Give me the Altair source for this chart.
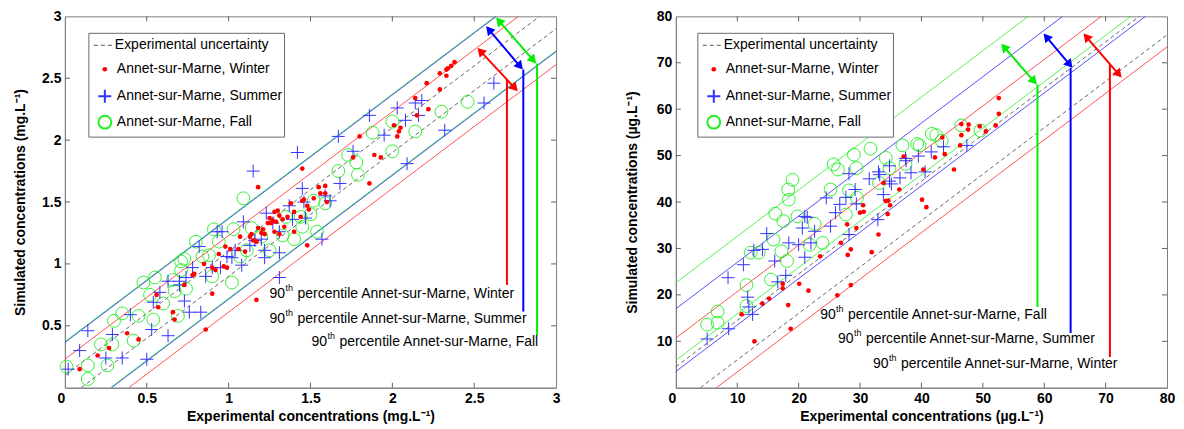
import math
import altair as alt
import pandas as pd

# ---------------- data: left panel (mg.L-1) ----------------
L_win_x = [0.09,0.20,0.27,0.38,0.45,0.57,0.56,0.66,0.67,0.73,0.78,0.79,0.86,0.85,0.90,0.90,0.92,0.94,0.98,1.01,0.97,0.99,1.06,1.07,1.10,1.13,1.14,1.15,1.17,1.18,1.20,1.21,1.22,1.24,1.25,1.26,1.27,1.28,1.29,1.31,1.33,1.36,1.31,1.34,1.28,1.30,1.18,1.17,1.38,1.40,1.40,1.44,1.45,1.46,1.48,1.48,1.49,1.52,1.55,1.56,1.59,1.59,1.60,1.45,1.76,1.80,1.86,1.89,1.93,2.01,2.03,2.05,2.04,2.14,2.15,2.21,2.22,2.29,2.29,2.33,2.34,2.36,2.38,2.33]
L_win_y = [0.15,0.26,0.32,0.44,0.39,0.65,0.75,0.61,0.55,0.83,0.91,0.92,0.47,1.00,0.76,0.97,0.95,1.08,1.14,1.12,0.98,0.97,1.12,1.22,1.10,1.22,1.24,1.19,1.18,1.29,1.25,1.28,1.24,1.33,1.37,1.33,1.35,1.26,1.34,1.24,1.36,1.38,1.39,1.30,1.42,1.43,1.62,0.71,1.49,1.26,1.42,1.38,1.51,1.52,1.15,1.47,1.44,1.53,1.62,1.57,1.57,1.63,1.50,1.77,1.86,2.03,1.65,1.88,1.86,2.12,2.03,2.10,2.07,2.34,2.20,2.46,2.25,2.54,2.41,2.52,2.58,2.60,2.63,2.57]
L_sum_x = [0.02,0.09,0.14,0.25,0.29,0.35,0.40,0.53,0.50,0.63,0.54,0.58,0.63,0.70,0.70,0.73,0.76,0.83,0.74,0.78,0.82,0.86,0.90,0.93,0.96,0.95,0.99,1.02,1.04,1.08,1.09,1.13,1.15,1.16,1.20,1.22,1.22,1.23,1.27,1.31,1.31,1.31,1.37,1.39,1.42,1.45,1.46,1.47,1.57,1.59,1.62,1.67,1.68,1.76,1.86,1.95,2.03,2.08,2.09,2.14,2.16,2.18,2.32,2.56,2.62]
L_sum_y = [0.15,0.30,0.46,0.24,0.43,0.24,0.59,0.47,0.23,0.42,0.69,0.77,0.86,0.86,0.83,0.70,0.61,0.61,0.89,0.97,1.14,0.90,0.97,1.26,1.26,0.97,1.06,1.05,1.11,0.99,1.34,1.15,1.75,1.19,1.20,1.05,1.11,1.41,1.33,1.09,0.89,1.26,1.47,1.36,1.90,1.61,1.50,1.37,1.20,1.55,1.51,2.03,1.65,1.91,2.20,2.04,2.26,2.16,1.81,2.30,2.20,2.32,2.08,2.30,2.46]
L_fal_x = [0.01,0.14,0.14,0.22,0.26,0.29,0.30,0.35,0.45,0.42,0.48,0.52,0.54,0.55,0.60,0.66,0.67,0.69,0.71,0.73,0.71,0.74,0.80,0.84,0.88,0.90,0.91,0.94,1.02,1.03,1.07,1.09,1.11,1.14,1.20,1.25,1.33,1.35,1.40,1.44,1.45,1.50,1.52,1.54,1.59,1.67,1.73,1.78,1.79,1.88,2.00,2.00,2.14,2.30,2.46]
L_fal_y = [0.17,0.18,0.07,0.35,0.18,0.35,0.54,0.60,0.58,0.38,0.85,0.75,0.55,0.89,0.68,0.87,0.78,0.58,1.02,1.04,0.95,0.80,1.18,1.06,1.07,0.90,1.28,1.18,0.85,1.28,1.06,1.53,1.11,1.29,1.22,1.11,1.23,1.38,1.20,1.38,1.30,1.40,1.51,1.26,1.49,1.75,1.88,1.82,1.72,2.06,2.15,1.91,2.07,2.23,2.31]

# band offsets (y = x + c): upper, lower
L_bands = {"Winter": (0.23, -0.39), "Summer": (0.365, -0.285), "Fall": (0.372, -0.278)}
L_dash = [0.1, -0.1]
# arrows: x0, y0, x1, y1, vertical x, vertical y top, vertical y bottom
L_arrows = {"Winter": (2.52, 2.745, 2.766, 2.395, 2.70, 2.49, 0.83),
            "Summer": (2.573, 2.919, 2.797, 2.57, 2.80, 2.57, 0.615),
            "Fall": (2.634, 2.99, 2.878, 2.62, 2.884, 2.62, 0.425)}
L_notes = {"Winter": (1.25, 0.758), "Summer": (1.25, 0.556), "Fall": (1.506, 0.371)}

# ---------------- data: right panel (µg.L-1) ----------------
R_win_x = [10.7,12.8,14.1,15.2,17.4,17.4,18.3,18.7,20.1,21.6,23.5,26.3,26.9,27.9,28.0,28.5,28.5,29.4,30.0,30.5,30.6,31.9,33.0,33.8,34.2,34.5,34.6,34.9,36.4,37.1,40.1,40.3,40.8,42.2,43.4,43.8,45.3,46.3,46.5,46.5,47.6,47.7,49.5,50.5,52.1,52.6,52.6]
R_win_y = [15.8,10.0,18.1,19.2,22.4,21.4,17.8,12.7,22.4,20.9,28.3,19.9,31.2,35.2,28.6,29.8,22.1,34.4,37.7,39.3,37.9,29.2,33.0,44.1,40.2,37.4,40.3,39.3,42.7,49.8,40.5,47.0,38.9,49.6,53.9,50.3,47.0,52.2,54.4,56.8,55.6,56.7,56.3,55.2,56.5,59.0,62.4]
R_sum_x = [5.1,8.6,8.5,11.0,11.9,11.7,12.5,12.7,14.1,14.8,16.1,16.6,17.9,18.4,20.0,20.6,21.0,21.4,21.0,22.6,22.0,24.5,25.2,26.0,26.7,27.7,28.2,28.2,29.2,29.4,31.5,33.0,33.2,33.8,32.9,34.8,34.8,35.1,36.5,37.4,37.5,38.3,39.5,40.6,41.6,43.6,47.4]
R_sum_y = [10.5,12.7,23.7,26.5,17.4,19.5,15.8,29.6,29.8,33.2,27.3,22.8,24.2,31.2,30.8,34.4,28.1,36.7,36.9,33.7,31.2,40.9,34.8,37.7,39.5,41.0,46.1,33.0,42.7,39.6,45.0,46.5,45.9,41.6,36.2,47.8,44.5,43.9,45.2,49.4,48.9,46.3,49.9,46.5,50.8,51.9,52.2]
R_fal_x = [5.1,6.8,6.8,11.5,11.5,12.2,13.5,15.5,15.9,16.2,17.2,17.5,18.1,18.3,18.4,19.0,19.8,21.8,22.6,23.9,25.2,25.7,26.4,27.7,28.2,29.0,29.4,29.5,31.7,33.1,34.2,34.8,36.9,37.4,39.3,39.7,41.7,42.4,43.3,46.5,49.6]
R_fal_y = [13.6,14.0,16.4,22.1,17.6,29.1,29.1,23.3,31.9,37.5,29.4,35.9,27.3,42.7,40.5,44.8,36.9,30.8,35.3,31.2,42.7,48.1,47.0,37.3,42.5,50.2,47.3,40.9,51.5,44.1,49.5,47.3,52.2,48.2,52.5,52.2,54.7,54.4,53.2,56.5,55.4]

R_bands = {"Winter": (10.7, -6.6), "Summer": (17.0, 3.5), "Fall": (22.6, 5.9)}
R_dash = [4.5, -4.0]
R_arrows = {"Fall": (53.0, 74.1, 58.8, 65.3, 58.9, 65.3, 17.4),
            "Summer": (59.9, 76.3, 64.6, 68.9, 64.3, 68.9, 11.8),
            "Winter": (66.4, 76.3, 72.6, 66.8, 70.7, 69.7, 6.6)}
R_notes = {"Fall": (23.5, 15.6), "Summer": (26.4, 10.4), "Winter": (32.1, 5.2)}

SEASONS = ["Winter", "Summer", "Fall"]
COLORS = ["#ff0000", "#0000ff", "#00ee00"]
SITE = "Annet-sur-Marne"

W, H = 492, 372
FONT = "Liberation Sans"
GRAY = "#808080"


def panel(xmax, ticks, ylabels, fmt, win, summ, fall, bands, dash, arrows, notes,
          xtitle, ytitle, ytp, bx):
    kx, ky = W / xmax, H / xmax
    xs = alt.Scale(domain=[0, xmax], nice=False, zero=False)
    ys = alt.Scale(domain=[0, xmax], nice=False, zero=False)
    xaxis = alt.Axis(values=ticks, format=fmt, title=xtitle, ticks=False, grid=False,
                     labelFlush=False,
                     labelAlign={"expr": "datum.value == 0 ? 'right' : 'center'"},
                     labelPadding=4, titlePadding=4)
    yaxis = alt.Axis(values=ylabels, format=fmt, title=ytitle, ticks=False, grid=False,
                     labelFlush=False, labelPadding=4, titlePadding=ytp)

    def X(f):
        return alt.X(f, type="quantitative", scale=xs, axis=xaxis)

    def Y(f):
        return alt.Y(f, type="quantitative", scale=ys, axis=yaxis)

    cscale = alt.Scale(domain=SEASONS, range=COLORS)
    col = alt.Color("s:N", scale=cscale, legend=None)

    # band lines
    rows = []
    for s in SEASONS:
        for c in bands[s]:
            x0, x1 = max(0, -c), min(xmax, xmax - c)
            rows.append({"x": x0, "y": x0 + c, "x2": x1, "y2": x1 + c, "s": s})
    band_df = pd.DataFrame(rows)
    band_layers = []
    for s in ["Fall", "Summer", "Winter"]:
        band_layers.append(
            alt.Chart(band_df[band_df.s == s]).mark_rule(strokeWidth=0.8, clip=True,
                                                         color=COLORS[SEASONS.index(s)], opacity=0.85)
            .encode(x=X("x"), y=Y("y"), x2="x2", y2="y2"))

    drows = []
    for c in dash:
        x0, x1 = max(0, -c), min(xmax, xmax - c)
        drows.append({"x": x0, "y": x0 + c, "x2": x1, "y2": x1 + c})
    dash_layer = alt.Chart(pd.DataFrame(drows)).mark_rule(
        strokeWidth=0.9, color="#555555", strokeDash=[4, 3], clip=True
    ).encode(x=X("x"), y=Y("y"), x2="x2", y2="y2")

    # scatter
    fall_df = pd.DataFrame({"x": fall[0], "y": fall[1]})
    sum_df = pd.DataFrame({"x": summ[0], "y": summ[1]})
    win_df = pd.DataFrame({"x": win[0], "y": win[1]})
    fall_layer = alt.Chart(fall_df).mark_point(shape="circle", size=165, filled=False,
                                               color="#22ee22", strokeWidth=0.9, opacity=1
                                               ).encode(x=X("x"), y=Y("y"))
    sum_layer = alt.Chart(sum_df).mark_point(shape="M-1,0L1,0M0,-1L0,1", size=169, filled=False,
                                             color="#3333ff", strokeWidth=1, opacity=1
                                             ).encode(x=X("x"), y=Y("y"))
    win_layer = alt.Chart(win_df).mark_point(shape="circle", size=22, filled=True,
                                             color="#ff0000", opacity=1
                                             ).encode(x=X("x"), y=Y("y"))

    # arrows
    r = 5.0
    h = math.sqrt(3) / 2 * r
    arows, heads, verts = [], [], []
    for s in SEASONS:
        x0, y0, x1, y1, vx, vy0, vy1 = arrows[s]
        dx, dy = (x1 - x0) * kx, -(y1 - y0) * ky
        L = math.hypot(dx, dy)
        ux, uy = dx / L, dy / L
        ang1 = math.degrees(math.atan2(ux, -uy)) % 360
        ang0 = (ang1 + 180) % 360
        c1 = (x1 - ux * h / kx, y1 + uy * h / ky)
        c0 = (x0 + ux * h / kx, y0 - uy * h / ky)
        arows.append({"x": c0[0], "y": c0[1], "x2": c1[0], "y2": c1[1], "s": s})
        heads.append({"x": c1[0], "y": c1[1], "a": ang1, "s": s})
        heads.append({"x": c0[0], "y": c0[1], "a": ang0, "s": s})
        verts.append({"x": vx, "y": vy0, "y2": vy1, "s": s})
    shaft_layer = alt.Chart(pd.DataFrame(arows)).mark_rule(strokeWidth=2).encode(
        x=X("x"), y=Y("y"), x2="x2", y2="y2", color=col)
    head_layer = alt.Chart(pd.DataFrame(heads)).mark_point(
        shape="triangle-up", filled=True, size=100, opacity=1).encode(
        x=X("x"), y=Y("y"), angle=alt.Angle("a:Q", scale=None), color=col)
    vert_layer = alt.Chart(pd.DataFrame(verts)).mark_rule(strokeWidth=2).encode(
        x=X("x"), y=Y("y"), y2="y2", color=col)

    # annotations
    nrows = []
    for s in SEASONS:
        nx, ny = notes[s]
        nrows.append({"x": nx, "y": ny, "t0": "90", "t1": "th",
                      "t2": "percentile " + SITE + ", " + s})
    ndf = pd.DataFrame(nrows)
    note90 = alt.Chart(ndf).mark_text(align="left", baseline="middle", font=FONT,
                                      color="black").encode(
        x=X("x"), y=Y("y"), text="t0:N", size=alt.value(14))
    noteth = alt.Chart(ndf).mark_text(align="left", baseline="middle", font=FONT,
                                      dx=16, dy=-6, color="black").encode(
        x=X("x"), y=Y("y"), text="t1:N", size=alt.value(9))
    noterest = alt.Chart(ndf).mark_text(align="left", baseline="middle", font=FONT,
                                        dx=28, color="black").encode(
        x=X("x"), y=Y("y"), text="t2:N", size=alt.value(14))

    # inside ticks
    inner = [t for t in ticks if 0 < t < xmax]
    tdf = pd.DataFrame({"v": inner})
    tick_layers = [
        alt.Chart(tdf).mark_rule(color="#606060").encode(x=X("v"), y=alt.value(H), y2=alt.value(H - 5)),
        alt.Chart(tdf).mark_rule(color="#606060").encode(x=X("v"), y=alt.value(0), y2=alt.value(5)),
        alt.Chart(tdf).mark_rule(color="#606060").encode(y=Y("v"), x=alt.value(0), x2=alt.value(5)),
        alt.Chart(tdf).mark_rule(color="#606060").encode(y=Y("v"), x=alt.value(W), x2=alt.value(W - 5)),
    ]

    # legend box (layout only)
    one = pd.DataFrame({"k": [0]})
    lg = []
    lg.append(alt.Chart(one).mark_rect(fill="white", stroke="#6a6a6a", strokeWidth=1).encode(
        x=alt.value(bx), x2=alt.value(bx + 196), y=alt.value(17), y2=alt.value(121)))
    lg.append(alt.Chart(one).mark_rule(color="#555555", strokeDash=[4, 3], strokeWidth=1).encode(
        x=alt.value(bx + 5), x2=alt.value(bx + 25), y=alt.value(29), y2=alt.value(29)))
    lg.append(alt.Chart(one).mark_point(shape="circle", size=22, filled=True, color="#ff0000",
                                        opacity=1).encode(x=alt.value(bx + 16), y=alt.value(53)))
    lg.append(alt.Chart(one).mark_point(shape="M-1,0L1,0M0,-1L0,1", size=169, filled=False,
                                        color="#3333ff", opacity=1).encode(x=alt.value(bx + 16), y=alt.value(80)))
    lg.append(alt.Chart(one).mark_point(shape="circle", size=165, filled=False, color="#22ee22",
                                        opacity=1).encode(x=alt.value(bx + 16), y=alt.value(106)))
    labels = ["Experimental uncertainty"] + [SITE + ", " + s for s in SEASONS]
    lys = [29, 53, 80, 106]
    lxs = [bx + 26, bx + 28, bx + 28, bx + 28]
    ldf = pd.DataFrame({"t": labels, "px": lxs, "py": lys})
    lg.append(alt.Chart(ldf).mark_text(
        align="left", baseline="middle", font=FONT, color="black", fontSize=14).encode(
        x=alt.X("px:Q", scale=None), y=alt.Y("py:Q", scale=None), text="t:N",
        size=alt.value(14)))

    layers = ([dash_layer] + band_layers + [fall_layer, sum_layer, win_layer,
              shaft_layer, vert_layer, head_layer, note90, noteth, noterest] + tick_layers + lg)
    return alt.layer(*layers).properties(width=W, height=H)


left = panel(3, [0, 0.5, 1, 1.5, 2, 2.5, 3], [0.5, 1, 1.5, 2, 2.5, 3], "~g",
             (L_win_x, L_win_y), (L_sum_x, L_sum_y), (L_fal_x, L_fal_y),
             L_bands, L_dash, L_arrows, L_notes,
             "Experimental concentrations (mg.L⁻¹)", "Simulated concentrations (mg.L⁻¹)", 14, 24)
right = panel(80, [0, 10, 20, 30, 40, 50, 60, 70, 80], [10, 20, 30, 40, 50, 60, 70, 80], "d",
              (R_win_x, R_win_y), (R_sum_x, R_sum_y), (R_fal_x, R_fal_y),
              R_bands, R_dash, R_arrows, R_notes,
              "Experimental concentrations (µg.L⁻¹)", "Simulated concentrations (µg.L⁻¹)", 17, 22)

chart = alt.hconcat(left, right, spacing=63).properties(
    padding={"left": 5, "top": 0, "right": 0, "bottom": 0}
).configure_view(stroke=GRAY, strokeWidth=1).configure_axis(
    labelFont=FONT, labelFontSize=14, labelFontWeight="bold", labelColor="black",
    titleFont=FONT, titleFontSize=14, titleFontWeight="bold", titleColor="black",
    domainColor=GRAY, domainWidth=1
)

chart.save("out.html", embed_options={"renderer": "svg", "actions": False})
